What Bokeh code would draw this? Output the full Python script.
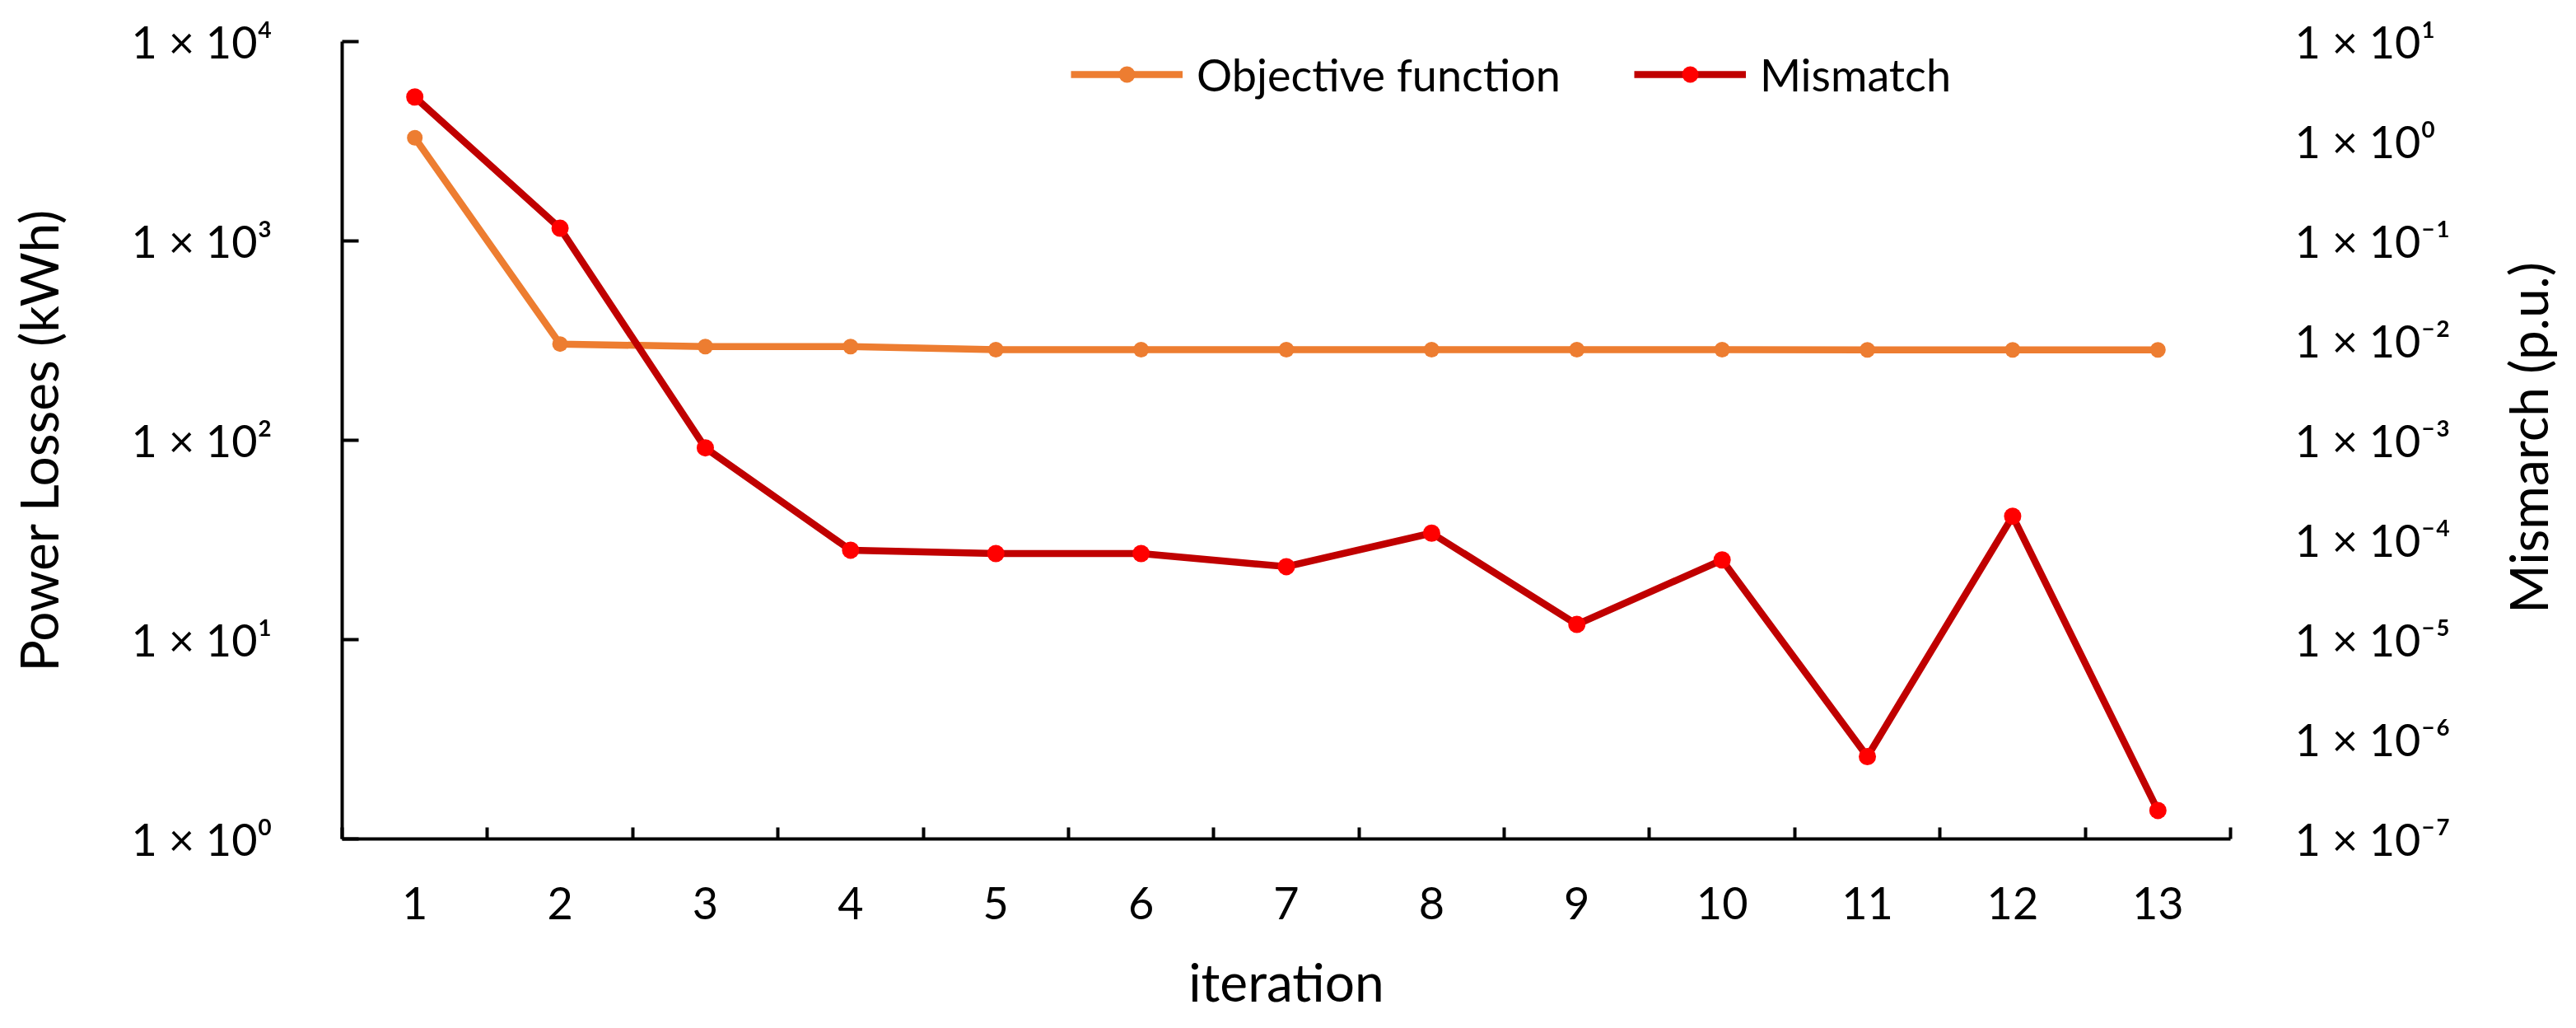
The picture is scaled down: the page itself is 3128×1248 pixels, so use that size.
import math
from bokeh.plotting import figure
from bokeh.models import Range1d, LogAxis, LogScale, FixedTicker, Legend, LegendItem, Label
from bokeh.embed import file_html
from bokeh.resources import INLINE

# ---- data ----
iterations = [1, 2, 3, 4, 5, 6, 7, 8, 9, 10, 11, 12, 13]
objective = [3290, 304, 295, 295, 285, 285, 285, 285, 285, 285, 284, 284, 284]
mismatch = [2.78, 0.134, 8.4e-4, 7.9e-5, 7.3e-5, 7.3e-5, 5.4e-5, 1.17e-4,
            1.42e-5, 6.3e-5, 6.7e-7, 1.73e-4, 1.93e-7]

left_ticks = [1, 10, 100, 1000, 10000]
left_labels = ["1 × 10⁰", "1 × 10¹", "1 × 10²", "1 × 10³", "1 × 10⁴"]
right_ticks = [1e-7, 1e-6, 1e-5, 1e-4, 1e-3, 1e-2, 1e-1, 1e0, 1e1]
right_labels = ["1 × 10⁻⁷", "1 × 10⁻⁶", "1 × 10⁻⁵", "1 × 10⁻⁴", "1 × 10⁻³",
                "1 × 10⁻²", "1 × 10⁻¹", "1 × 10⁰", "1 × 10¹"]
x_boundaries = [0.5, 1.5, 2.5, 3.5, 4.5, 5.5, 6.5, 7.5, 8.5, 9.5, 10.5, 11.5, 12.5, 13.5]
right_title = "Mismarch (p.u.)"

FONT = "Lato"
ORANGE = "#ED7D31"
DARKRED = "#C00000"
RED = "#FF0000"

p = figure(width=3112, height=1232,
           x_range=Range1d(0.5, 13.5), y_range=Range1d(1, 1e4),
           y_axis_type="log", output_backend="svg", toolbar_location=None,
           min_border_left=415, min_border_right=404,
           min_border_top=50, min_border_bottom=204,
           x_axis_label="iteration", y_axis_label="Power Losses (kWh)")
p.outline_line_color = None
p.grid.visible = False
p.background_fill_color = "white"
p.border_fill_color = "white"

p.extra_y_ranges = {"mis": Range1d(1e-7, 1e1)}
p.extra_y_scales = {"mis": LogScale()}

# x axis
xa = p.xaxis[0]
xa.ticker = FixedTicker(ticks=iterations, minor_ticks=x_boundaries)
xa.major_tick_in = 0
xa.major_tick_out = 0
xa.minor_tick_in = 14
xa.minor_tick_out = 0
xa.minor_tick_line_width = 4
xa.minor_tick_line_color = "black"
xa.axis_line_width = 4
xa.axis_line_color = "black"
xa.major_label_standoff = 58
xa.axis_label_standoff = 34

# left axis
ya = p.yaxis[0]
ya.ticker = FixedTicker(ticks=left_ticks, minor_ticks=[])
ya.major_label_overrides = dict(zip(left_ticks, left_labels))
ya.major_tick_in = 20
ya.major_tick_out = 0
ya.major_tick_line_width = 4
ya.major_tick_line_color = "black"
ya.axis_line_width = 4
ya.axis_line_color = "black"
ya.major_label_standoff = 85
ya.axis_label_standoff = 72
ya.major_label_text_baseline = "hanging"

# right axis
ra = LogAxis(y_range_name="mis")
ra.ticker = FixedTicker(ticks=right_ticks, minor_ticks=[])
ra.major_label_overrides = dict(zip(right_ticks, right_labels))
ra.axis_line_color = None
ra.major_tick_line_color = None
ra.minor_tick_line_color = None
ra.major_label_standoff = 72
p.add_layout(ra, "right")

for ax in (xa, ya, ra):
    ax.major_label_text_font = FONT
    ax.major_label_text_font_size = "54px"
    ax.major_label_text_color = "black"
    ax.axis_label_text_font = FONT
    ax.axis_label_text_font_size = "64px"
    ax.axis_label_text_font_style = "normal"
    ax.axis_label_text_color = "black"

# right-axis title, reading bottom-to-top, in its own side panel
rt = Label(x=91, y=487, x_units="screen", y_units="screen",
           text=right_title, angle=math.pi / 2,
           text_align="center", text_baseline="middle",
           text_font=FONT, text_font_size="64px", text_color="black")
p.add_layout(rt, "right")

# series
o_line = p.line(iterations, objective, line_color=ORANGE, line_width=8.5, line_join="round")
o_pts = p.scatter(iterations, objective, size=19, fill_color=ORANGE, line_color=None)
m_line = p.line(iterations, mismatch, line_color=DARKRED, line_width=8.5, line_join="round",
                y_range_name="mis")
m_pts = p.scatter(iterations, mismatch, size=21, fill_color=RED, line_color=None,
                  y_range_name="mis")

legend = Legend(items=[LegendItem(label="Objective function", renderers=[o_line, o_pts]),
                       LegendItem(label="Mismatch", renderers=[m_line, m_pts])],
                orientation="horizontal", location=(885, 895),
                glyph_width=136, glyph_height=50, label_height=66,
                label_standoff=17, spacing=89,
                padding=0, margin=0, border_line_color=None, background_fill_alpha=0,
                label_text_font=FONT, label_text_font_size="54px",
                label_text_color="black")
p.add_layout(legend)

open("out.html", "w").write(file_html(p, INLINE))
